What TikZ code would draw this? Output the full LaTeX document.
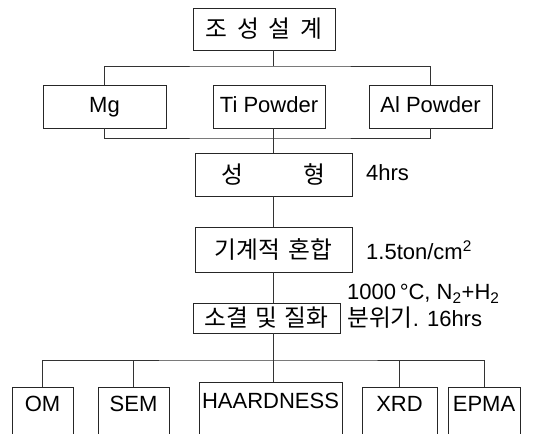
\documentclass[tikz,border=0pt]{standalone}
\usepackage{fontspec}
\setmainfont{Liberation Sans}
\newfontfamily\kr{Noto Sans CJK KR}[Scale=1.08]
\begin{document}
\begin{tikzpicture}[x=1pt,y=-1pt,
  every node/.style={font=\fontsize{22}{26}\selectfont},
  box/.style={draw=black!85,line width=0.8pt,inner sep=0pt,minimum height=43pt},
  latin/.style={text height=16pt,text depth=4pt},
  botbox/.style={draw=black!85,line width=0.8pt,inner xsep=0pt,inner ysep=0pt,anchor=north,text height=24pt,text depth=60pt},
  note/.style={anchor=west,inner sep=0pt},
  conn/.style={draw=black!80,line width=0.8pt}]
\useasboundingbox (0,0) rectangle (534,433);
\clip (0,0) rectangle (534,433);
\node[box,minimum width=142pt,minimum height=42pt] (top) at (264,29) {\kr 조\hspace{10pt}성\hspace{10pt}설\hspace{10pt}계};
\node[box,latin,minimum width=123pt] (mg) at (104.5,106.5) {Mg};
\node[box,latin,minimum width=112pt] (ti) at (269,106.5) {Ti Powder};
\node[box,latin,minimum width=123pt] (al) at (430.5,106.5) {Al Powder};
\node[box,minimum width=157pt] (form) at (273.5,174.5) {\kr 성\hspace{60pt}형};
\node[box,minimum width=157pt,minimum height=45pt] (mix) at (273.5,249.5) {\kr 기계적\hspace{8pt}혼합};
\node[box,minimum width=147pt,minimum height=30pt] (sinter) at (266.5,318) {\kr 소결\hspace{7pt}및\hspace{7pt}질화};
\node[note] (hrs) at (366,173) {4hrs};
\node[note] (ton) at (366,250) {1.5ton/cm\textsuperscript{2}};
\node[note] (cond1) at (347,294) {1000\,°C, N\textsubscript{2}+H\textsubscript{2}};
\node[note] (cond2) at (347,318) {{\kr 분위기}. 16hrs};
\node[botbox,minimum width=61pt] (om) at (42.5,387) {OM};
\node[botbox,minimum width=71pt] (sem) at (133.5,387) {SEM};
\node[botbox,minimum width=143pt,text height=26pt] (hard) at (270.5,382) {HAARDNESS};
\node[botbox,minimum width=75pt] (xrd) at (399.5,387) {XRD};
\node[botbox,minimum width=72pt] (epma) at (484,387) {EPMA};
\coordinate (b1) at (273,66);
\coordinate (b2) at (273,138);
\coordinate (b3) at (273,360);
\draw[conn] (top.south -| b1) -- (b1);
\draw[conn] (mg.north) |- (b1) -| (al.north);
\draw[conn] (mg.south) |- (b2) -| (al.south);
\draw[conn] (ti.south -| b2) -- (form.north -| b2);
\draw[conn] (form.south -| b2) -- (mix.north -| b2);
\draw[conn] (mix.south -| b2) -- (sinter.north -| b2);
\draw[conn] (sinter.south -| b3) -- (hard.north -| b3);
\draw[conn] (om.north) |- (b3) -| (epma.north);
\draw[conn] (sem.north) -- (sem.north |- b3);
\draw[conn] (xrd.north) -- (xrd.north |- b3);
\end{tikzpicture}
\end{document}
